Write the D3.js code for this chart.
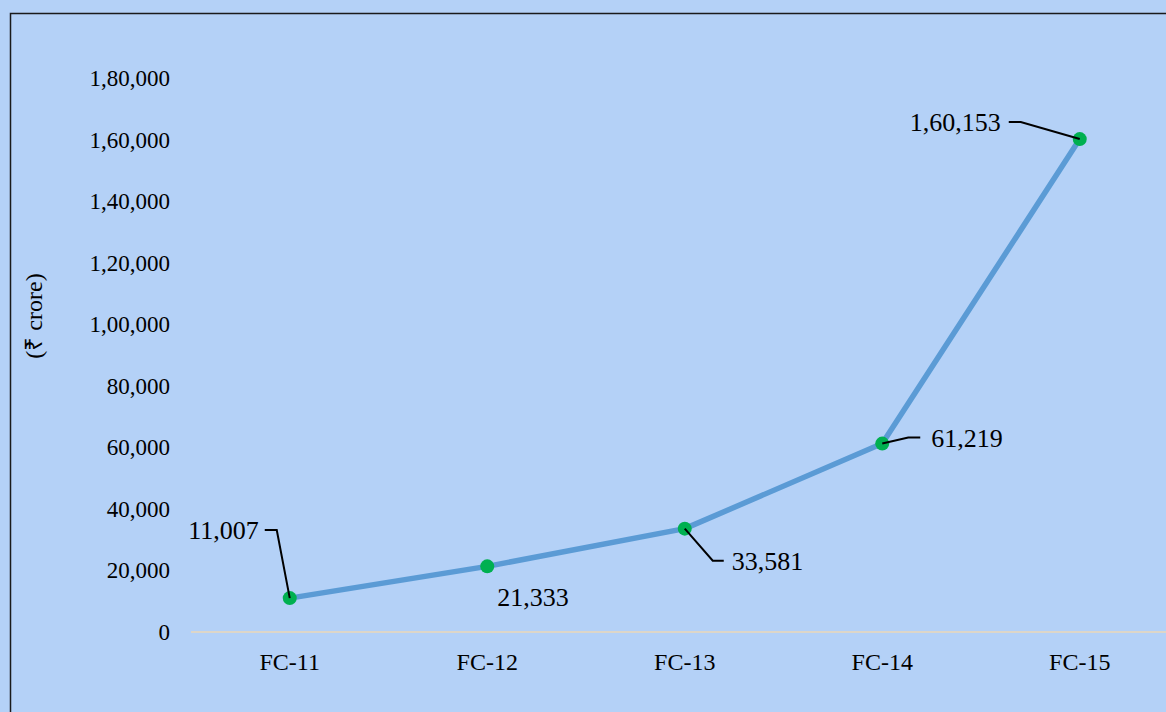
<!DOCTYPE html>
<html>
<head>
<meta charset="UTF-8">
<script src="https://d3js.org/d3.v7.min.js"></script>
<style>
  body { margin: 0; background: #b4d1f7; }
  text { font-family: "Liberation Serif", "Times New Roman", serif; fill: #000; }
</style>
</head>
<body>
<svg id="canvas"></svg>
<script>
  const categories = ["FC-11", "FC-12", "FC-13", "FC-14", "FC-15"];
  const values = [11007, 21333, 33581, 61219, 160153];
  const yTicks = [0, 20000, 40000, 60000, 80000, 100000, 120000, 140000, 160000, 180000];

  // label placement relative to the point: text offset and leader elbow
  const labelLayout = [
    { dx: -31, dy: -68, anchor: "end", leader: [[0, 0], [-13, -68], [-25, -68]] },
    { dx: 10, dy: 31, anchor: "start", leader: null },
    { dx: 47, dy: 32, anchor: "start", leader: [[0, 0], [28, 32], [39, 32]] },
    { dx: 49, dy: -6, anchor: "start", leader: [[0, 0], [26, -6], [38, -6]] },
    { dx: -79, dy: -17, anchor: "end", leader: [[0, 0], [-59, -17], [-71, -17]] }
  ];

  const width = 1166, height = 712;

  // Indian digit grouping: 1,60,153
  function fmtIN(n) {
    const s = String(Math.round(n));
    if (s.length <= 3) return s;
    const last3 = s.slice(-3);
    const rest = s.slice(0, -3).replace(/\B(?=(\d{2})+(?!\d))/g, ",");
    return rest + "," + last3;
  }

  const svg = d3.select("#canvas").attr("width", width).attr("height", height);

  svg.append("rect")
    .attr("width", width).attr("height", height).attr("fill", "#b4d1f7");

  // outer frame (runs off the right and bottom edges)
  svg.append("rect")
    .attr("x", 10.5).attr("y", 13.5)
    .attr("width", width + 20).attr("height", height + 20)
    .attr("fill", "none").attr("stroke", "#1a1a1a").attr("stroke-width", 1.5);

  const x = d3.scaleBand().domain(categories).range([191, 1178.5]);
  const y = d3.scaleLinear().domain([0, 180000]).range([632, 78]);

  // y tick labels
  svg.append("g").selectAll("text")
    .data(yTicks).enter().append("text")
      .attr("x", 170)
      .attr("y", d => y(d))
      .attr("dy", "0.35em")
      .attr("text-anchor", "end")
      .style("font-size", "23px")
      .text(d => fmtIN(d));

  // baseline
  svg.append("line")
    .attr("x1", 191).attr("x2", width)
    .attr("y1", y(0)).attr("y2", y(0))
    .attr("stroke", "#ddd6c8").attr("stroke-width", 2);

  // category labels
  svg.append("g").selectAll("text")
    .data(categories).enter().append("text")
      .attr("x", d => x(d) + x.bandwidth() / 2)
      .attr("y", 670)
      .attr("text-anchor", "middle")
      .style("font-size", "24px")
      .text(d => d);

  // y axis title
  svg.append("text")
    .attr("transform", "translate(42,316) rotate(-90)")
    .attr("text-anchor", "middle")
    .style("font-size", "24px")
    .text("(₹ crore)");

  const pts = values.map((v, i) => [x(categories[i]) + x.bandwidth() / 2, y(v)]);

  svg.append("path")
    .datum(pts)
    .attr("d", d3.line())
    .attr("fill", "none")
    .attr("stroke", "#5b9bd5")
    .attr("stroke-width", 5.5)
    .attr("stroke-linejoin", "round");

  svg.append("g").selectAll("circle")
    .data(pts).enter().append("circle")
      .attr("cx", d => d[0]).attr("cy", d => d[1])
      .attr("r", 7)
      .attr("fill", "#00b050");

  // leader lines
  svg.append("g").selectAll("path")
    .data(pts.map((p, i) => [p, labelLayout[i]]).filter(d => d[1].leader))
    .enter().append("path")
      .attr("d", d => d3.line()(d[1].leader.map(o => [d[0][0] + o[0], d[0][1] + o[1]])))
      .attr("fill", "none")
      .attr("stroke", "#000")
      .attr("stroke-width", 2);

  // data labels
  svg.append("g").selectAll("text")
    .data(values).enter().append("text")
      .attr("x", (d, i) => pts[i][0] + labelLayout[i].dx)
      .attr("y", (d, i) => pts[i][1] + labelLayout[i].dy)
      .attr("dy", "0.35em")
      .attr("text-anchor", (d, i) => labelLayout[i].anchor)
      .style("font-size", "26px")
      .text(d => fmtIN(d));
</script>
</body>
</html>
